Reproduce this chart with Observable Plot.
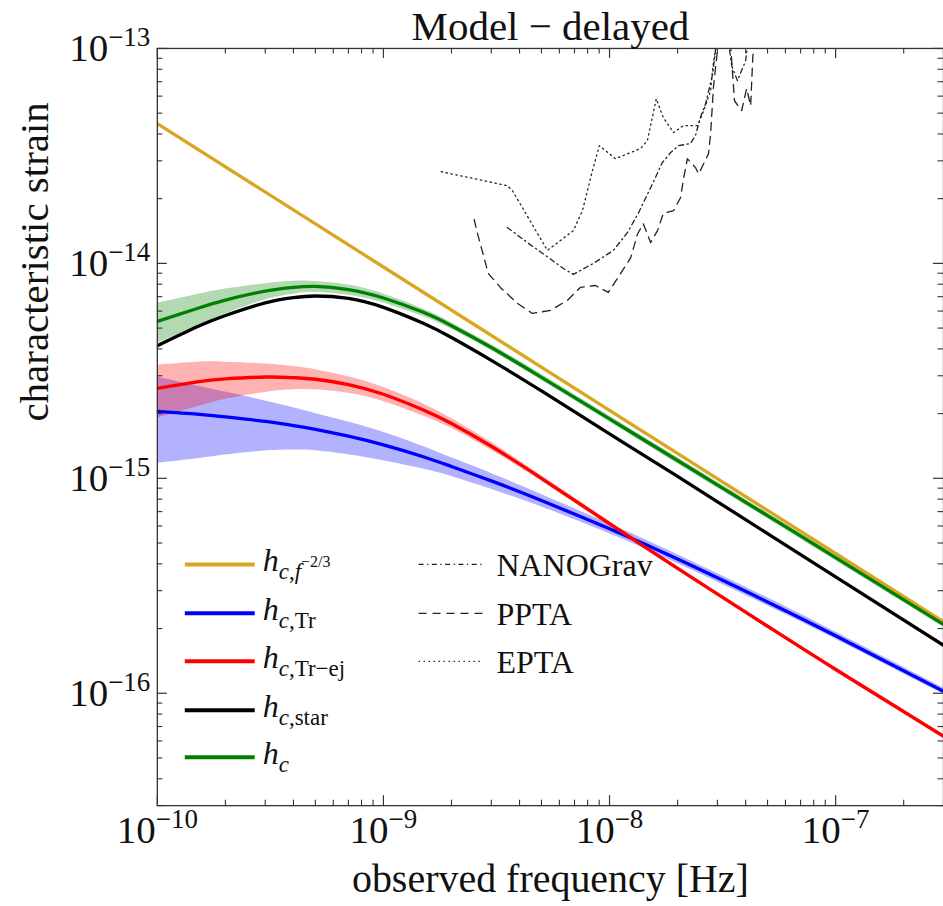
<!DOCTYPE html>
<html><head><meta charset="utf-8">
<script src="https://cdn.jsdelivr.net/npm/d3@7"></script>
<script src="https://cdn.jsdelivr.net/npm/@observablehq/plot@0.6"></script>
<style>html,body{margin:0;padding:0;background:#fff;overflow:hidden;} #chart{width:943px;height:906px;overflow:hidden;position:relative;}</style>
</head><body><div id="chart"></div>
<script>
// ---------- data ----------
const title = "Model − delayed";
const xLabel = "observed frequency [Hz]";
const yLabel = "characteristic strain";

const freq = [1e-10, 1.5e-10, 2e-10, 3e-10, 4e-10, 5e-10, 7e-10, 1e-9, 1.5e-9, 2e-9, 3e-9, 5e-9, 1e-8, 2e-8, 5e-8, 1e-7, 3e-7];

const hcTotal   = [5.37e-15, 6.17e-15, 6.75e-15, 7.43e-15, 7.74e-15, 7.82e-15, 7.55e-15, 6.90e-15, 5.92e-15, 5.13e-15, 4.06e-15, 2.95e-15, 1.89e-15, 1.21e-15, 6.70e-16, 4.28e-16, 2.09e-16];
const hcTotalLo = [4.25e-15, 5.08e-15, 5.81e-15, 6.75e-15, 7.18e-15, 7.33e-15, 7.11e-15, 6.55e-15, 5.66e-15, 4.94e-15, 3.93e-15, 2.86e-15, 1.83e-15, 1.17e-15, 6.49e-16, 4.14e-16, 2.03e-16];
const hcTotalHi = [6.52e-15, 7.16e-15, 7.59e-15, 8.05e-15, 8.26e-15, 8.24e-15, 7.93e-15, 7.21e-15, 6.14e-15, 5.30e-15, 4.19e-15, 3.05e-15, 1.95e-15, 1.25e-15, 6.92e-16, 4.42e-16, 2.16e-16];

const hcStar = [4.14e-15, 5.07e-15, 5.72e-15, 6.55e-15, 6.93e-15, 7.05e-15, 6.87e-15, 6.24e-15, 5.26e-15, 4.52e-15, 3.54e-15, 2.55e-15, 1.61e-15, 1.02e-15, 5.53e-16, 3.48e-16, 1.67e-16];

const hcTrEj   = [2.62e-15, 2.81e-15, 2.90e-15, 2.96e-15, 2.94e-15, 2.89e-15, 2.73e-15, 2.46e-15, 2.08e-15, 1.80e-15, 1.41e-15, 1.00e-15, 6.15e-16, 3.81e-16, 2.05e-16, 1.29e-16, 6.31e-17];
const hcTrEjLo = [1.905e-15, 2.15e-15, 2.33e-15, 2.51e-15, 2.58e-15, 2.58e-15, 2.49e-15, 2.28e-15, 1.95e-15, 1.71e-15, 1.35e-15, 9.68e-16, 5.98e-16, 3.73e-16, 2.01e-16, 1.27e-16, 6.18e-17];
const hcTrEjHi = [3.36e-15, 3.47e-15, 3.47e-15, 3.40e-15, 3.31e-15, 3.20e-15, 2.97e-15, 2.65e-15, 2.22e-15, 1.90e-15, 1.47e-15, 1.03e-15, 6.32e-16, 3.89e-16, 2.09e-16, 1.32e-16, 6.44e-17];

const hcTr   = [2.05e-15, 1.99e-15, 1.93e-15, 1.84e-15, 1.76e-15, 1.69e-15, 1.57e-15, 1.43e-15, 1.26e-15, 1.135e-15, 9.73e-16, 7.89e-16, 5.82e-16, 4.21e-16, 2.66e-16, 1.85e-16, 1.02e-16];
const hcTrLo = [1.176e-15, 1.234e-15, 1.285e-15, 1.34e-15, 1.353e-15, 1.343e-15, 1.288e-15, 1.208e-15, 1.105e-15, 1.02e-15, 8.90e-16, 7.36e-16, 5.52e-16, 4.01e-16, 2.55e-16, 1.785e-16, 9.91e-17];
const hcTrHi = [2.95e-15, 2.69e-15, 2.52e-15, 2.29e-15, 2.13e-15, 2.005e-15, 1.83e-15, 1.64e-15, 1.405e-15, 1.245e-15, 1.054e-15, 8.41e-16, 6.14e-16, 4.41e-16, 2.78e-16, 1.925e-16, 1.057e-16];

const powFreq = [1e-10, 1e-9, 1e-8, 1e-7, 3e-7];
const hcPow = [4.47e-14, 9.62e-15, 2.07e-15, 4.47e-16, 2.15e-16];

const eptaF = [1.80e-9, 3.53e-9, 3.72e-9, 5.31e-9, 6.92e-9, 7.59e-9, 8.40e-9, 9.02e-9, 1.06e-8, 1.37e-8, 1.47e-8, 1.61e-8, 1.73e-8, 1.92e-8, 2.12e-8, 2.45e-8, 2.61e-8, 2.80e-8, 2.86e-8, 2.98e-8];
const eptaH = [2.67e-14, 2.30e-14, 2.18e-14, 1.15e-14, 1.42e-14, 1.76e-14, 2.70e-14, 3.53e-14, 3.07e-14, 3.42e-14, 3.72e-14, 5.83e-14, 4.76e-14, 4.06e-14, 4.37e-14, 4.37e-14, 5.14e-14, 6.36e-14, 8.13e-14, 1.09e-13];

const pptaF = [2.52e-9, 2.60e-9, 2.91e-9, 3.29e-9, 3.91e-9, 4.56e-9, 5.47e-9, 6.51e-9, 7.43e-9, 8.65e-9, 9.88e-9, 1.12e-8, 1.24e-8, 1.33e-8, 1.41e-8, 1.52e-8, 1.63e-8, 1.73e-8, 1.92e-8, 2.06e-8, 2.13e-8, 2.21e-8, 2.40e-8, 2.48e-8, 2.74e-8, 2.80e-8, 2.88e-8, 3.00e-8, 3.10e-8, 3.40e-8, 3.47e-8, 3.57e-8, 3.84e-8, 4.04e-8, 4.21e-8, 4.30e-8, 4.39e-8];
const pptaH = [1.60e-14, 1.39e-14, 8.98e-15, 7.73e-15, 6.52e-15, 5.85e-15, 6.04e-15, 6.73e-15, 7.73e-15, 7.89e-15, 7.33e-15, 8.98e-15, 1.06e-14, 1.37e-14, 1.53e-14, 1.25e-14, 1.42e-14, 1.71e-14, 1.76e-14, 2.02e-14, 2.51e-14, 3.07e-14, 2.79e-14, 2.61e-14, 3.24e-14, 4.02e-14, 6.56e-14, 9.76e-14, 1.15e-13, 1.15e-13, 8.77e-14, 5.71e-14, 5.14e-14, 6.50e-14, 5.42e-14, 9.05e-14, 1.15e-13];

const nanoF = [3.53e-9, 4.33e-9, 5.20e-9, 6.25e-9, 6.92e-9, 8.49e-9, 1.04e-8, 1.20e-8, 1.34e-8, 1.56e-8, 1.71e-8, 1.86e-8, 2.02e-8, 2.28e-8, 2.40e-8, 2.52e-8, 2.66e-8, 2.86e-8, 2.98e-8, 3.33e-8, 3.47e-8, 3.68e-8, 4.00e-8, 4.12e-8];
const nanoH = [1.47e-14, 1.25e-14, 1.09e-14, 9.47e-15, 8.89e-15, 1.00e-14, 1.15e-14, 1.39e-14, 1.71e-14, 2.38e-14, 2.94e-14, 3.27e-14, 3.53e-14, 3.61e-14, 3.93e-14, 4.76e-14, 5.53e-14, 7.62e-14, 1.09e-13, 1.15e-13, 8.32e-14, 7.08e-14, 8.77e-14, 1.15e-13];

const xMajor = [1e-10, 1e-9, 1e-8, 1e-7];
const yMajor = [1e-16, 1e-15, 1e-14, 1e-13];
const xDomain = [1e-10, 3e-7];
const yDomain = [3e-17, 1e-13];

// ---------- layout / style ----------
const W = 944, H = 906, ML = 157, MR = 0, MT = 48, MB = 100;
const PW = W - ML - MR, PH = H - MT - MB;
const FONT = "'Liberation Serif','DejaVu Serif',serif";
const AX = "#333";
const C = {pow: "#DAA520", tr: "#0000FF", trej: "#FF0000", star: "#000000", tot: "#008000"};

const xMinor = [], yMinor = [];
for (const e of [-10, -9, -8, -7]) for (let k = 2; k <= 9; k++) { const v = k * Math.pow(10, e); if (v <= 3.0001e-7) xMinor.push(v); }
for (const e of [-17, -16, -15, -14]) for (let k = 2; k <= 9; k++) { const v = k * Math.pow(10, e); if (v >= 2.999e-17) yMinor.push(v); }

const main = freq.map((f, i) => ({f, tot: hcTotal[i], totLo: hcTotalLo[i], totHi: hcTotalHi[i], star: hcStar[i],
  trej: hcTrEj[i], trejLo: hcTrEjLo[i], trejHi: hcTrEjHi[i], tr: hcTr[i], trLo: hcTrLo[i], trHi: hcTrHi[i]}));
const pow = powFreq.map((f, i) => ({f, h: hcPow[i]}));
const epta = eptaF.map((f, i) => ({f, h: eptaH[i]}));
const ppta = pptaF.map((f, i) => ({f, h: pptaH[i]}));
const nano = nanoF.map((f, i) => ({f, h: nanoH[i]}));

const fmt = d => { const e = Math.round(Math.log10(d)); return "10^" + (e < 0 ? "−" + (-e) : String(e)); };
const curve = "natural";
const LW = 3.3;
const DASH = {nano: "5,3.5,1.3,3.5", ppta: "8,6", epta: "1.4,3.6"};

const svg = Plot.plot({
  width: W, height: H, marginLeft: ML, marginRight: MR, marginTop: MT, marginBottom: MB,
  style: {fontFamily: FONT, background: "#fff", color: "#000", overflow: "visible"},
  x: {type: "log", domain: xDomain, axis: null},
  y: {type: "log", domain: yDomain, axis: null},
  marks: [
    Plot.areaY(main, {x: "f", y1: "trLo", y2: "trHi", fill: C.tr, fillOpacity: 0.3, curve, clip: true}),
    Plot.areaY(main, {x: "f", y1: "trejLo", y2: "trejHi", fill: C.trej, fillOpacity: 0.3, curve, clip: true}),
    Plot.areaY(main, {x: "f", y1: "totLo", y2: "totHi", fill: C.tot, fillOpacity: 0.3, curve, clip: true}),
    Plot.line(pow, {x: "f", y: "h", stroke: C.pow, strokeWidth: LW, clip: true}),
    Plot.line(main, {x: "f", y: "tr", stroke: C.tr, strokeWidth: LW, curve, clip: true}),
    Plot.line(main, {x: "f", y: "trej", stroke: C.trej, strokeWidth: LW, curve, clip: true}),
    Plot.line(main, {x: "f", y: "star", stroke: C.star, strokeWidth: LW, curve, clip: true}),
    Plot.line(main, {x: "f", y: "tot", stroke: C.tot, strokeWidth: LW, curve, clip: true}),
    Plot.line(nano, {x: "f", y: "h", stroke: "#222", strokeWidth: 1.3, strokeDasharray: DASH.nano, clip: true}),
    Plot.line(ppta, {x: "f", y: "h", stroke: "#222", strokeWidth: 1.3, strokeDasharray: DASH.ppta, clip: true}),
    Plot.line(epta, {x: "f", y: "h", stroke: "#222", strokeWidth: 1.3, strokeDasharray: DASH.epta, clip: true}),
    // inward ticks on all four sides
    Plot.tickX(xMajor, {x: d => d, insetTop: PH - 10, stroke: AX, strokeWidth: 1.2}),
    Plot.tickX(xMajor, {x: d => d, insetBottom: PH - 10, stroke: AX, strokeWidth: 1.2}),
    Plot.tickX(xMinor, {x: d => d, insetTop: PH - 5.5, stroke: AX, strokeWidth: 1.1}),
    Plot.tickX(xMinor, {x: d => d, insetBottom: PH - 5.5, stroke: AX, strokeWidth: 1.1}),
    Plot.tickY(yMajor, {y: d => d, insetRight: PW - 10, stroke: AX, strokeWidth: 1.2}),
    Plot.tickY(yMajor, {y: d => d, insetLeft: PW - 10, stroke: AX, strokeWidth: 1.2}),
    Plot.tickY(yMinor, {y: d => d, insetRight: PW - 5.5, stroke: AX, strokeWidth: 1.1}),
    Plot.tickY(yMinor, {y: d => d, insetLeft: PW - 5.5, stroke: AX, strokeWidth: 1.1}),
    Plot.frame({stroke: AX, strokeWidth: 1.3}),
    Plot.axisX({ticks: xMajor, tickSize: 0, tickPadding: 10, tickFormat: fmt, fontSize: 39, label: null, fill: "#111"}),
    Plot.axisY({ticks: yMajor, tickSize: 0, tickPadding: 7, tickFormat: fmt, fontSize: 39, label: null, fill: "#111"}),
    Plot.text([title], {text: d => d, frameAnchor: "top", lineAnchor: "middle", dy: -21.5, fontSize: 41, fill: "#111"}),
    Plot.text([xLabel], {text: d => d, frameAnchor: "bottom", lineAnchor: "middle", dy: 74, fontSize: 40, fill: "#111"}),
    Plot.text([yLabel], {text: d => d, frameAnchor: "left", lineAnchor: "middle", dx: -123, dy: -5.5, rotate: -90, fontSize: 41, fill: "#111"})
  ]
});

// superscript exponents on the tick labels
const NS = "http://www.w3.org/2000/svg";
svg.querySelectorAll("text").forEach(t => {
  const s = t.textContent;
  if (!s.includes("^")) return;
  const [b, e] = s.split("^");
  t.textContent = "";
  const t1 = document.createElementNS(NS, "tspan"); t1.textContent = b; t.appendChild(t1);
  const t2 = document.createElementNS(NS, "tspan"); t2.textContent = e;
  t2.setAttribute("dy", "-15"); t2.setAttribute("font-size", "27"); t.appendChild(t2);
});

// legend
const lg = d3.select(svg).append("g").attr("font-family", FONT).attr("fill", "#111").attr("text-anchor", "start");
const leftItems = [
  {c: C.pow, parts: [["c", "i"], [",", "r"], ["f", "i"], ["−2/3", "sup"]]},
  {c: C.tr, parts: [["c", "i"], [",", "r"], ["Tr", "r"]]},
  {c: C.trej, parts: [["c", "i"], [",", "r"], ["Tr−ej", "r"]]},
  {c: C.star, parts: [["c", "i"], [",", "r"], ["star", "r"]]},
  {c: C.tot, parts: [["c", "i"]]}
];
const leftY = [565, 614, 662, 711, 758];
leftItems.forEach((it, i) => {
  const y = leftY[i];
  lg.append("line").attr("x1", 185).attr("x2", 255).attr("y1", y).attr("y2", y)
    .attr("stroke", it.c).attr("stroke-width", 4);
  const t = lg.append("text").attr("x", 263).attr("y", y + 7).attr("font-size", 32);
  t.append("tspan").attr("font-style", "italic").text("h");
  let first = true;
  it.parts.forEach(([s, k]) => {
    const ts = t.append("tspan");
    if (k === "sup") { ts.attr("font-size", 16).attr("dy", -12).text(s); return; }
    ts.attr("font-size", 23).attr("font-style", k === "i" ? "italic" : "normal").text(s);
    if (first) { ts.attr("dy", 8); first = false; }
  });
});
const rightItems = [["NANOGrav", DASH.nano], ["PPTA", DASH.ppta], ["EPTA", DASH.epta]];
rightItems.forEach(([name, dash], i) => {
  const y = leftY[i];
  lg.append("line").attr("x1", 419).attr("x2", 483).attr("y1", y).attr("y2", y)
    .attr("stroke", "#222").attr("stroke-width", 1.3).attr("stroke-dasharray", dash);
  lg.append("text").attr("x", 497).attr("y", y + 11.5).attr("font-size", 32).text(name);
});

document.getElementById("chart").appendChild(svg);
</script>
</body></html>
